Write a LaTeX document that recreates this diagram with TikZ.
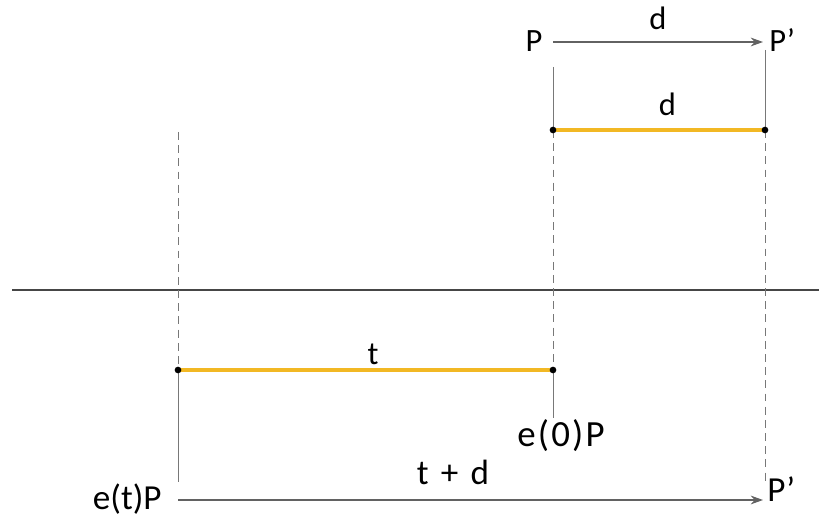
\documentclass[tikz,border=0pt]{standalone}
\usepackage{fontspec}
\setmainfont{Carlito}
\usetikzlibrary{arrows.meta, positioning, calc}

\definecolor{segyellow}{RGB}{242,184,36}
\definecolor{guidegray}{RGB}{120,120,120}
\definecolor{axisgray}{RGB}{70,70,70}

\begin{document}
\begin{tikzpicture}[
    x=0.02cm, y=-0.02cm,
    every node/.style={inner sep=0pt},
    lbl/.style={font=\fontsize{18.5}{20}\selectfont, anchor=base},
    biglbl/.style={font=\fontsize{20}{22}\selectfont, anchor=base},
    guide/.style={draw=guidegray, line width=0.5pt},
    dashguide/.style={guide, dash pattern=on 4.5pt off 3pt},
    segment/.style={draw=segyellow, line width=1.8pt},
    shiftarrow/.style={draw=axisgray!85, line width=0.6pt, -{Stealth[length=7pt, width=5pt]}},
  ]
  \useasboundingbox (0,0) rectangle (819,523);

  % axis
  \coordinate (axisL) at (12,290);
  \coordinate (axisR) at (819,290);
  \draw[axisgray, line width=1.3pt] (axisL) -- (axisR);

  % end points of the two segments
  \coordinate (d0) at (553,130);
  \coordinate (d1) at (765,130);
  \coordinate (t0) at (178,370);
  \coordinate (t1) at (553,370);

  % top: P -> P'
  \node[lbl] (P) at (534,52) {P};
  \node[lbl, anchor=base west] (P1) at (769,52) {P’};
  \coordinate (Ptop) at (553,67);
  \coordinate (P1top) at (765,50);
  \draw[shiftarrow] (Ptop |- 0,42) -- node[lbl, anchor=base, yshift=7pt] (dtop) {d} (763,42);

  % bottom: e(t)P -> P'
  \node[biglbl, anchor=base east] (etP) at (162,510) {e(t)P};
  \node[biglbl, anchor=base west] (P2) at (767,502) {P’};
  \node[biglbl, font=\fontsize{21}{22}\selectfont\addfontfeature{LetterSpace=6}] (e0P) at (561,447) {e(0)P};
  \coordinate (etbot) at (178,482);
  \coordinate (P2top) at (765,482);
  \coordinate (ettop) at (178,132);
  \draw[shiftarrow] (etbot |- 0,500) -- node[biglbl, pos=0.47, yshift=9pt] (tdlbl) {t\hspace{0.35em}+\hspace{0.35em}d} (763,500);

  % guide lines
  \draw[guide] (Ptop) -- (d0);
  \draw[guide] (P1top) -- (d1);
  \draw[dashguide] (d0) -- (t1);
  \draw[dashguide] (d1) -- (P2top);
  \draw[dashguide] (ettop) -- (t0);
  \draw[guide] (t0) -- (etbot);
  \draw[guide] (t1) -- (t1 |- 0,418);

  % segments
  \draw[segment] (d0) -- node[lbl, pos=0.54, yshift=8pt] (dlbl) {d} (d1);
  \draw[segment] (t0) -- node[lbl, pos=0.52, yshift=3pt] (tlbl) {t} (t1);
  \foreach \p in {d0,d1,t0,t1}
    \fill (\p) circle (1.9pt);
\end{tikzpicture}
\end{document}
